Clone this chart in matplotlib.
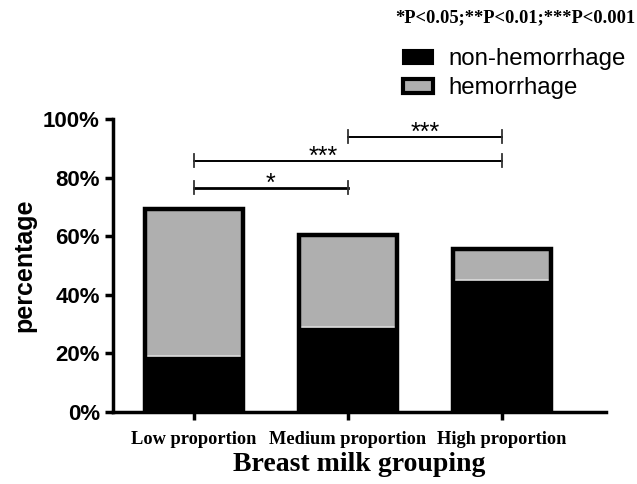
import matplotlib
matplotlib.use('Agg')
import matplotlib.pyplot as plt
from matplotlib.patches import Patch
import numpy as np

groups = ['Low proportion', 'Medium proportion', 'High proportion']
non_hemorrhage = [19, 29, 45]      # % (black)
hemorrhage = [50.3, 31.3, 10.5]    # % (grey, stacked on top)
yticks = [0, 20, 40, 60, 80, 100]
# significance brackets: (from group, to group, height %, label)
sig_pairs = [(0, 1, 76.5, '*'), (0, 2, 85.8, '***'), (1, 2, 94.0, '***')]

serif = ['Liberation Serif', 'DejaVu Serif']
sans = ['Liberation Sans', 'DejaVu Sans']

fig = plt.figure(figsize=(6.37, 4.84), dpi=100)
ax = fig.add_axes([0.1774, 0.1494, 0.951 - 0.1774, 0.754 - 0.1494])

x = np.arange(len(groups))
w = 0.64
totals = np.array(non_hemorrhage) + np.array(hemorrhage)

ax.bar(x, non_hemorrhage, width=w, color='black', edgecolor='black', linewidth=0)
ax.bar(x, hemorrhage, width=w, bottom=non_hemorrhage, color='#afafaf',
       edgecolor='#dcdcdc', linewidth=1.2)
# thick outline around whole stacked bar
ax.bar(x, totals, width=w, fill=False, edgecolor='black', linewidth=3.2, zorder=3)

ax.set_xlim(-0.526, 2.675)
ax.set_ylim(0, 100)
ax.set_yticks(yticks)
ax.set_yticklabels([f'{t}%' for t in yticks], fontsize=16, fontweight='bold', family=sans)
ax.set_xticks(x)
ax.set_xticklabels(groups, fontsize=13.2, fontweight='bold', family=serif)
ax.tick_params(axis='both', width=2.5, length=6, direction='out')
ax.tick_params(axis='x', pad=8)
for s in ['top', 'right']:
    ax.spines[s].set_visible(False)
for s in ['left', 'bottom']:
    ax.spines[s].set_linewidth(2.5)
ax.spines['left'].set_bounds(0, 100)

ax.set_ylabel('percentage', fontsize=18, fontweight='bold', family=sans, labelpad=5)
ax.set_xlabel('Breast milk grouping', fontsize=20, fontweight='bold', family=serif, labelpad=3)

# significance brackets
cap = 2.2
for a, b, h, lab in sig_pairs:
    lw = 2.0 if lab == '*' else 1.4
    ax.plot([a, b], [h, h], color='black', lw=lw, clip_on=False)
    ax.plot([a, a], [h - cap, h + cap], color='#333333', lw=1.3, clip_on=False)
    ax.plot([b, b], [h - cap, h + cap], color='#333333', lw=1.3, clip_on=False)
    xm = 0.84 if (a, b) == (0, 2) else (a + b) / 2
    ax.text(xm, h - 1.2, lab, ha='center', va='baseline', fontsize=18, family=sans)

# legend
handles = [Patch(facecolor='black', edgecolor='black', linewidth=1.5, label='non-hemorrhage'),
           Patch(facecolor='#afafaf', edgecolor='black', linewidth=3, label='hemorrhage')]
fig.legend(handles=handles, loc='upper left', bbox_to_anchor=(0.598, 0.945),
           frameon=False, prop={'family': sans, 'size': 17.3},
           handlelength=1.25, handleheight=0.55, handletextpad=0.65, labelspacing=0.3)

fig.text(0.998, 0.963, '*P<0.05;**P<0.01;***P<0.001', ha='right', va='center',
         fontsize=13.3, fontweight='bold', family=serif)

fig.savefig('out.png', dpi=100)
